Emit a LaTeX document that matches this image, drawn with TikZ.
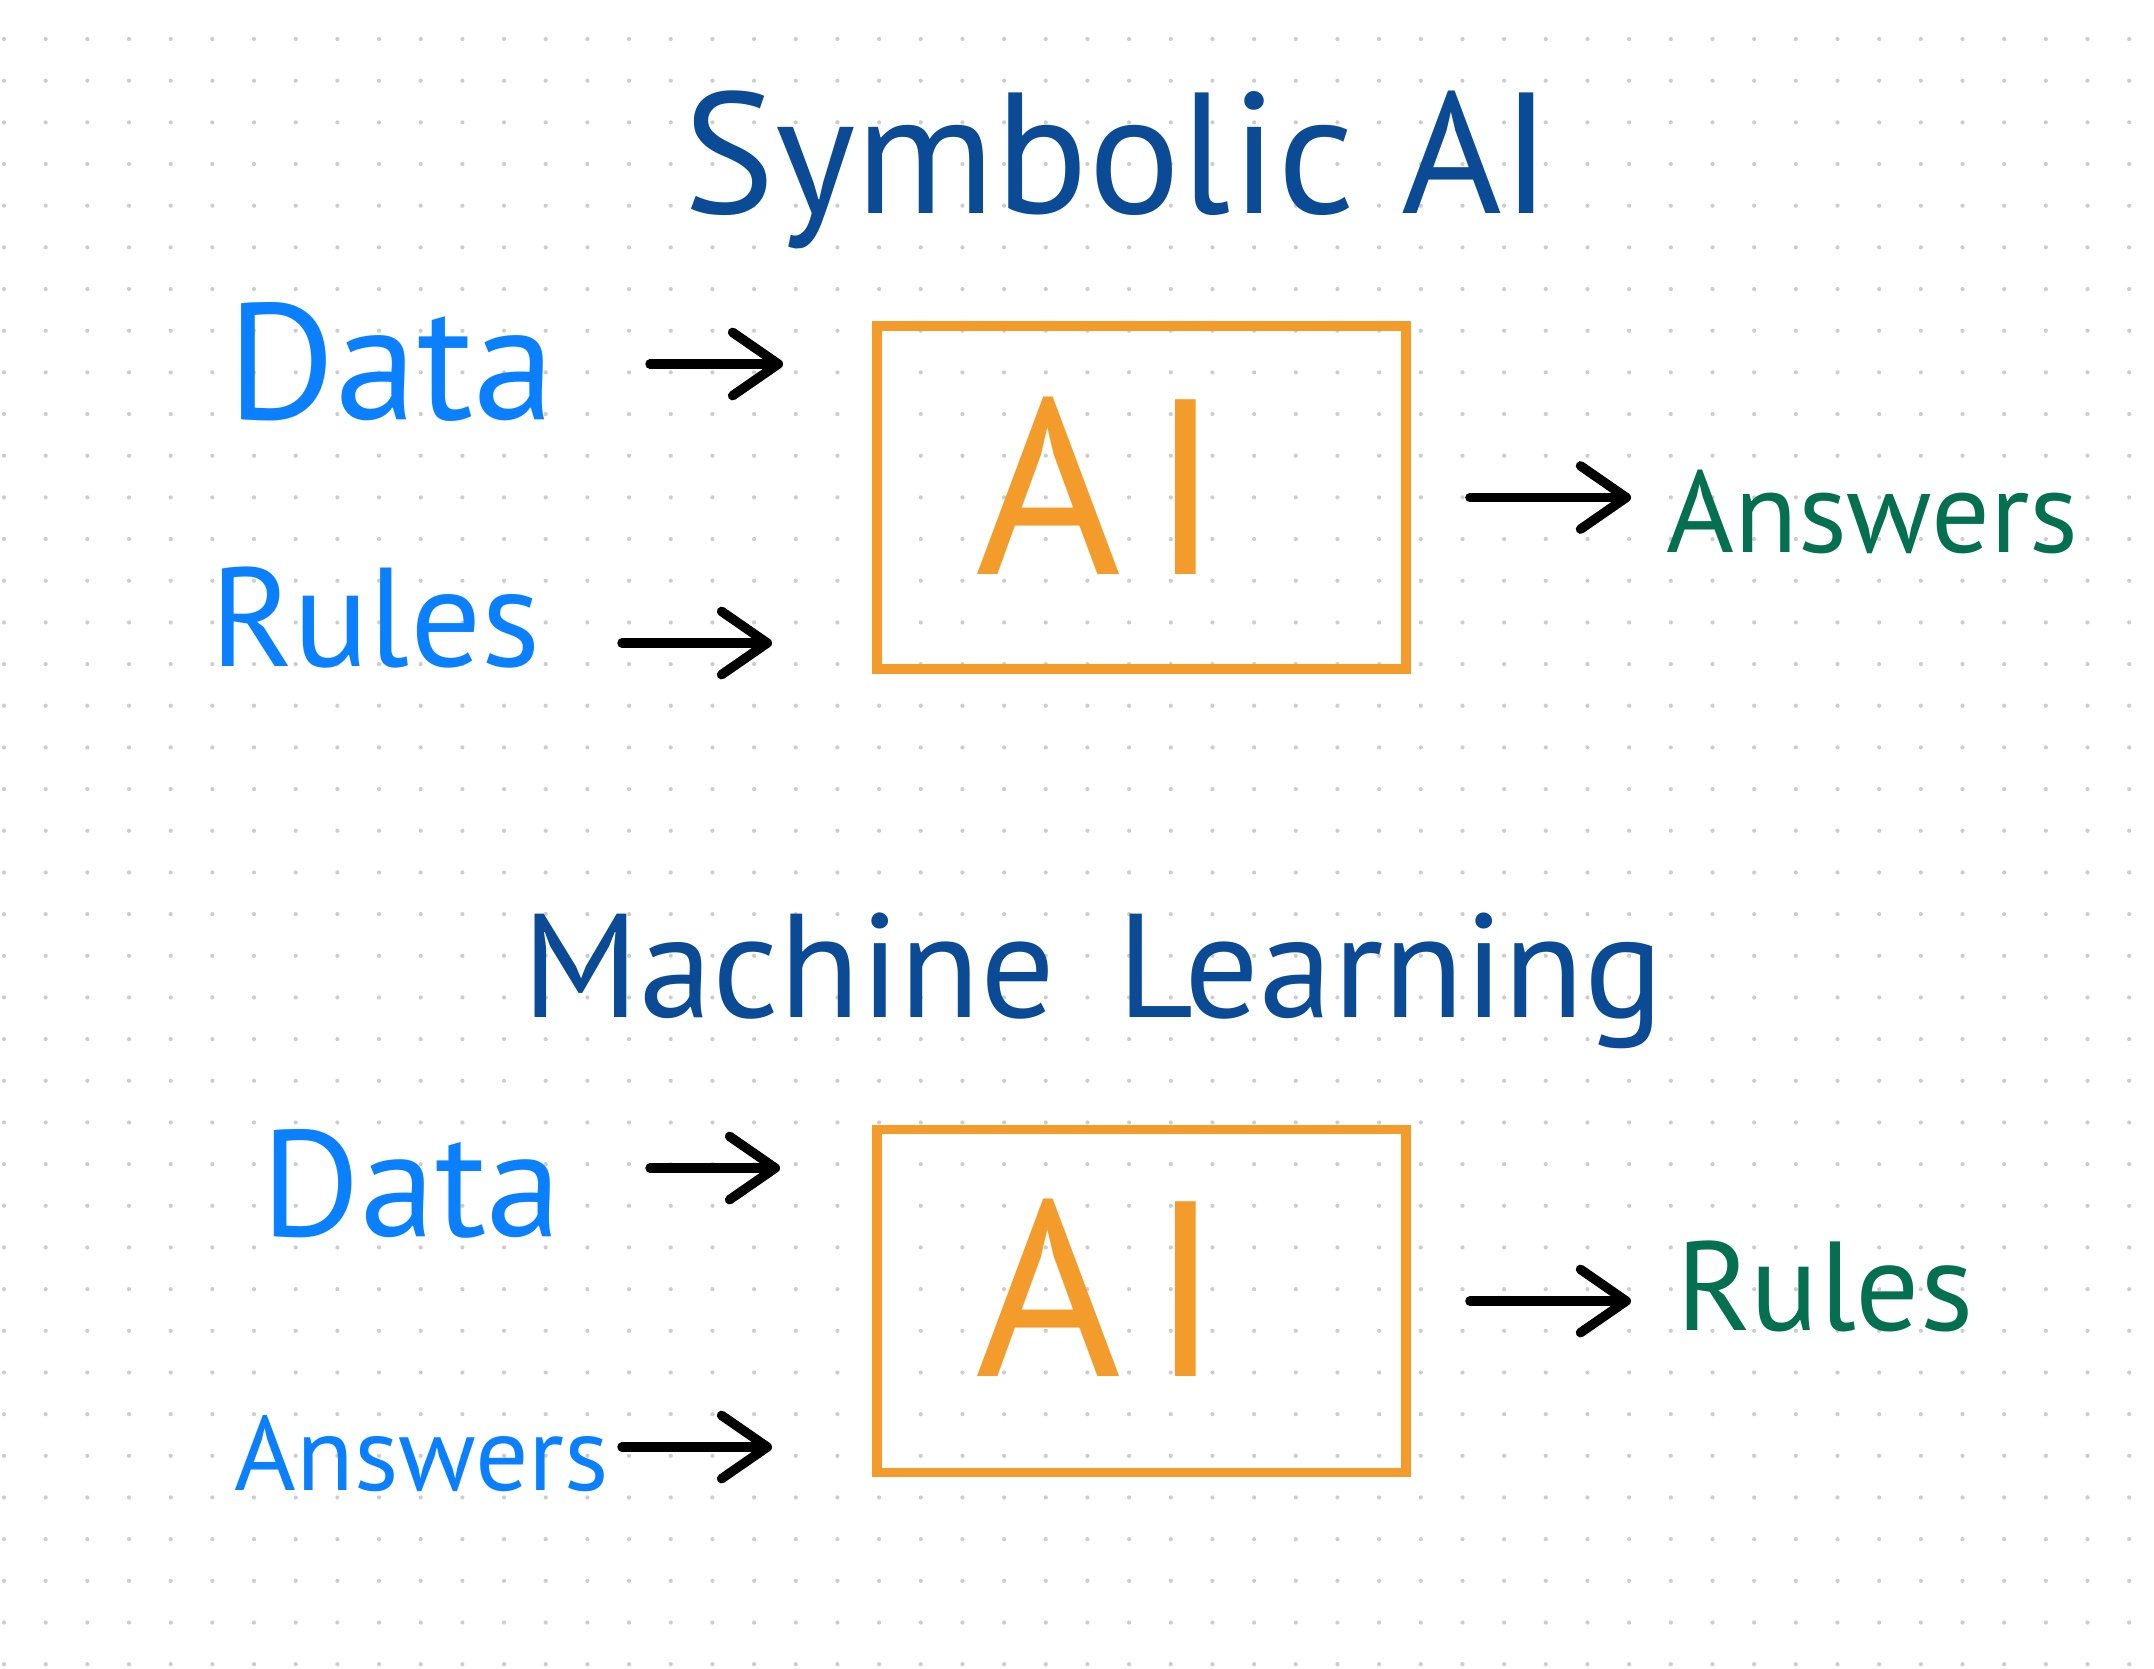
\documentclass[tikz,border=0pt]{standalone}
\usepackage{fontspec}
\newfontfamily\handfont{PT Sans}
\usetikzlibrary{arrows.meta}
\definecolor{inkblue}{RGB}{10,128,255}
\definecolor{inknavy}{RGB}{11,74,148}
\definecolor{inkgreen}{RGB}{5,112,80}
\definecolor{inkorange}{RGB}{243,156,43}
\definecolor{dotgray}{RGB}{205,205,205}
\tikzset{
  word/.style={font=\handfont\fontsize{#1}{#1}\selectfont, anchor=base west, inner sep=0pt},
  aibox/.style={draw=inkorange, line width=2.7pt, minimum width=5.29cm, minimum height=3.43cm},
  inkarrow/.style={line width=2.7pt, line cap=round, -{Straight Barb[length=13pt,width=18pt,round]}}
}

\begin{document}
\begin{tikzpicture}[x=0.01cm, y=-0.01cm]
  % page and dotted paper
  \fill[white] (0,0) rectangle (2154,1668);
  \useasboundingbox (0,0) rectangle (2154,1668);
  \foreach \i in {0,...,51} {
    \foreach \j in {0,...,39} {
      \fill[dotgray] ({4+41.67*\i},{39+41.67*\j}) circle (0.6pt);
    }
  }

  % Symbolic AI
  \node[word=49, text=inknavy] (titleSym) at (683,213) {Symbolic AI};
  \node[word=47, text=inkblue] (dataA) at (227,419) {Data};
  \node[word=40, text=inkblue] (rulesA) at (210,666) {Rules};
  \node[aibox] (boxSym) at (1141.5,497.5) {};
  \node[word=71, text=inkorange] (aiSym) at (975,574) {A\hspace{0.11em}I};
  \node[word=33, text=inkgreen] (ansA) at (1666,552) {Answers};
  \coordinate (dataA-tail) at (650,364);
  \coordinate (rulesA-tail) at (622,643);
  \draw[inkarrow, shorten >=0.89cm] (dataA-tail) -- (dataA-tail -| boxSym.west);
  \draw[inkarrow, shorten >=1cm] (rulesA-tail) -- (rulesA-tail -| boxSym.west);
  \draw[inkarrow, shorten <=0.59cm, shorten >=0.35cm] (boxSym.east) -- (boxSym.east -| ansA.west);

  % Machine Learning
  \node[word=42, text=inknavy] (titleML) at (522,1017) {Machine\hspace{0.15em} Learning};
  \node[word=43, text=inkblue] (dataB) at (261,1236) {Data};
  \node[word=30, text=inkblue] (ansB) at (234,1490) {Answers};
  \node[aibox] (boxML) at (1141.5,1301) {};
  \node[word=71, text=inkorange] (aiML) at (975,1376) {A\hspace{0.11em}I};
  \node[word=36, text=inkgreen] (rulesB) at (1676,1330) {Rules};
  \coordinate (dataB-tail) at (650,1168);
  \coordinate (ansB-tail) at (622,1447);
  \draw[inkarrow, shorten >=0.92cm] (dataB-tail) -- (dataB-tail -| boxML.west);
  \draw[inkarrow, shorten >=1cm] (ansB-tail) -- (ansB-tail -| boxML.west);
  \draw[inkarrow, shorten <=0.59cm, shorten >=0.45cm] (boxML.east) -- (boxML.east -| rulesB.west);
\end{tikzpicture}
\end{document}
